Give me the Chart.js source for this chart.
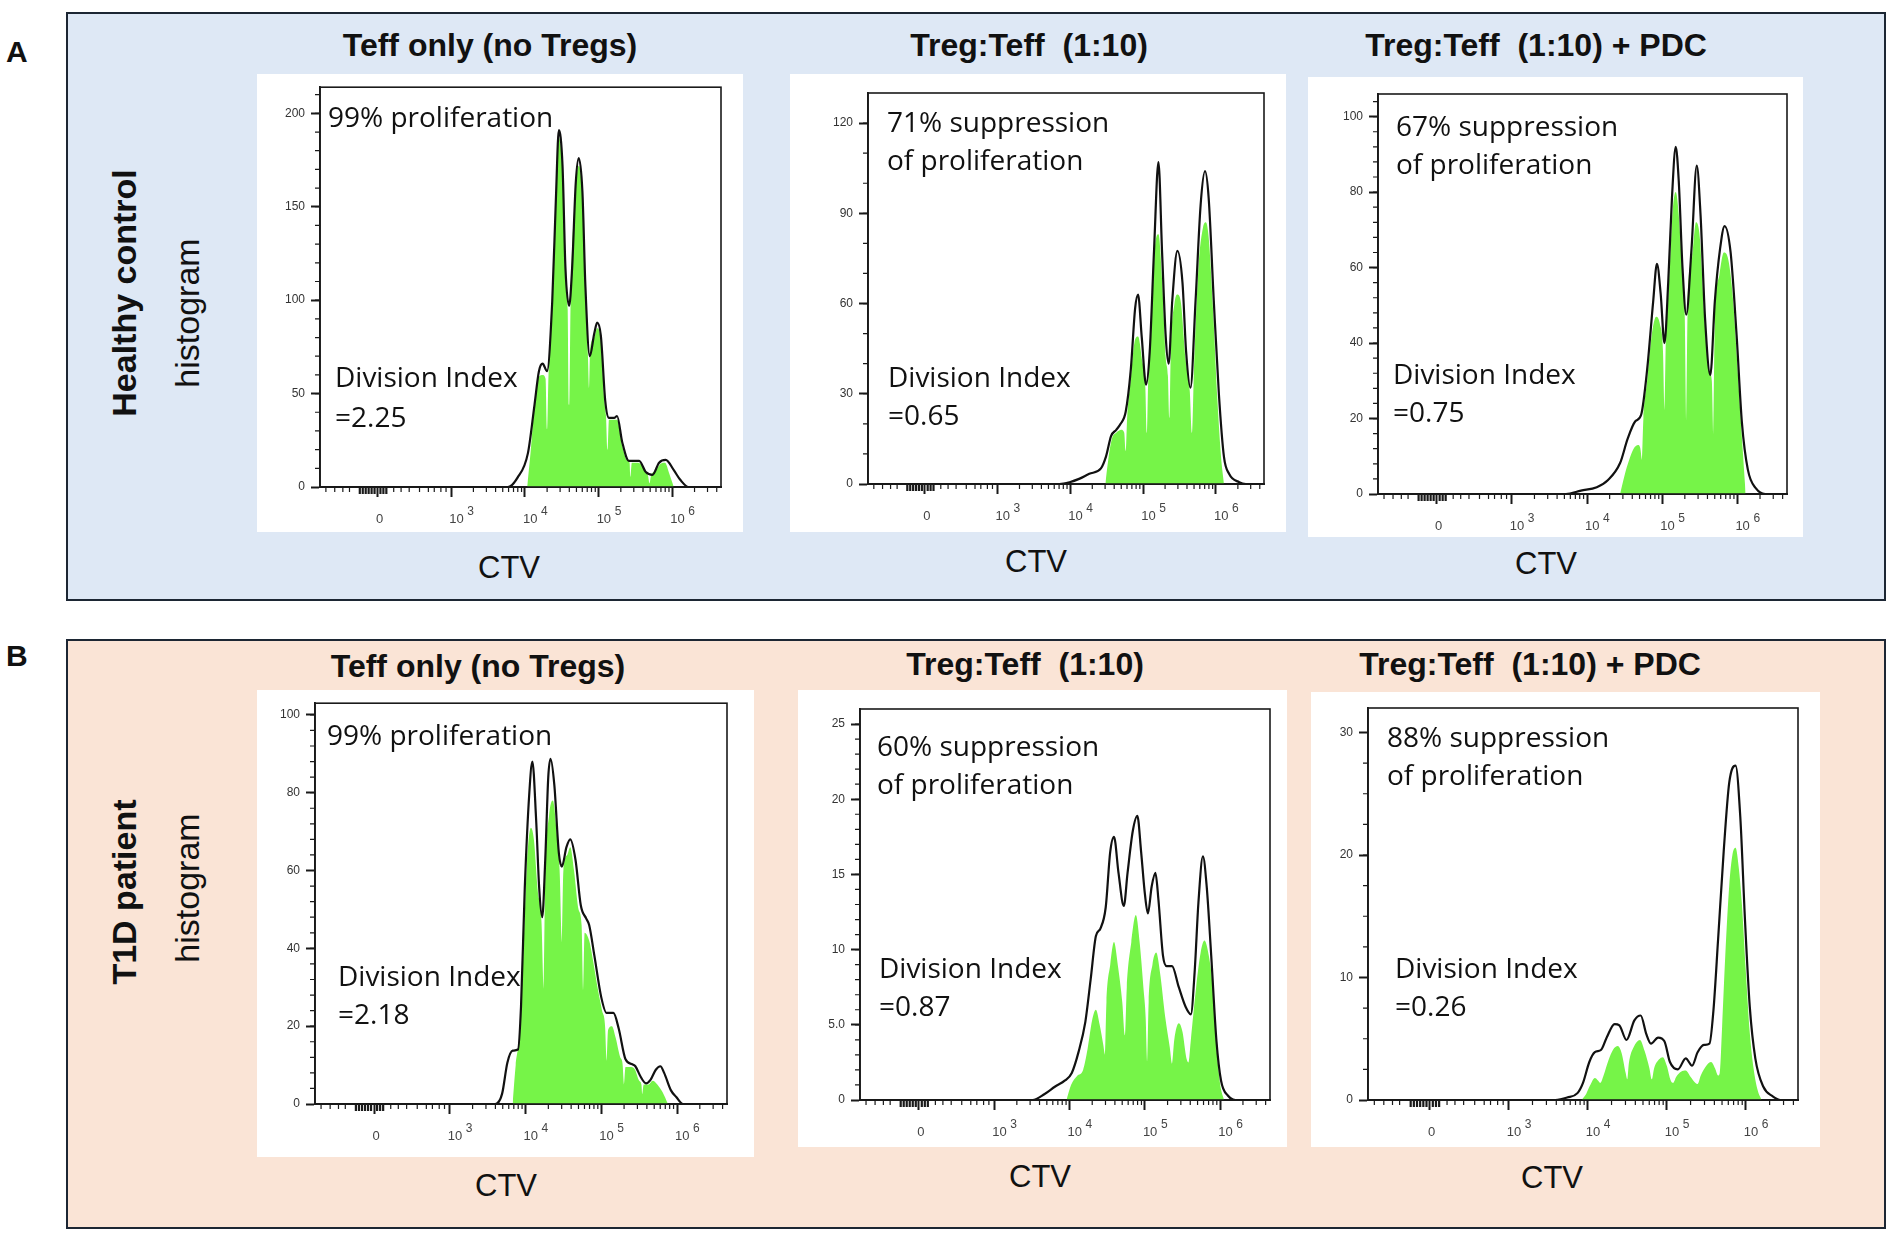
<!DOCTYPE html>
<html>
<head>
<meta charset="utf-8">
<script src="https://cdn.jsdelivr.net/npm/chart.js@4.4.1/dist/chart.umd.min.js"></script>
<style>
  html, body { margin: 0; padding: 0; background: #fff; }
  body { width: 1890px; height: 1236px; position: relative; overflow: hidden; }
  .panel { position: absolute; box-sizing: border-box; border: 2.5px solid #1c2633; }
  .box { position: absolute; background: #fff; }
  .txt { position: absolute; white-space: pre; color: #111; }
</style>
</head>
<body>
<div class="panel" style="left:66px;top:12px;width:1820px;height:589px;background:#dee8f5"></div>
<div class="panel" style="left:66px;top:639px;width:1820px;height:590px;background:#fae4d6"></div>

<script>
// CTV axis in display decades: 2 = "0", 3 = 10^3 ... 6 = 10^6
const xMin = 1.22, xMax = 6.66;
const xTickValues = [2, 3, 4, 5, 6];
const xTickBase = ["0", "10", "10", "10", "10"];
const xTickExp = ["", "3", "4", "5", "6"];
const xNearZeroTicks = [1.30, 1.42, 1.53, 1.62, 2.22, 2.32, 2.43, 2.57, 2.69, 2.77, 2.86, 2.93];
const xZeroCluster = [1.76, 1.80, 1.84, 1.88, 1.92, 1.96, 2.04, 2.08, 2.12];

// A: healthy control
const a1LineX = [1.22,3.77,3.90,4.04,4.13,4.19,4.24,4.30,4.37,4.42,4.46,4.51,4.55,4.60,4.64,4.69,4.73,4.78,4.82,4.88,4.94,4.98,5.03,5.09,5.14,5.21,5.25,5.32,5.41,5.55,5.64,5.73,5.82,5.91,6.02,6.11,6.22,6.66];
const a1LineY = [0,0,5,18,44,62,66,62,99,154,191,172,117,97,117,163,176,158,108,70,82,88,81,46,37,37,38,24,14,14,8,6.5,13,14.5,9,3.7,0,0];
const a1FillX = [4.03,4.08,4.14,4.19,4.24,4.28,4.30,4.32,4.37,4.42,4.46,4.51,4.55,4.58,4.60,4.62,4.68,4.73,4.78,4.82,4.855,4.87,4.885,4.94,4.98,5.03,5.08,5.10,5.12,5.14,5.20,5.25,5.32,5.39,5.42,5.43,5.45,5.52,5.58,5.64,5.67,5.69,5.71,5.78,5.84,5.90,5.96,6.02];
const a1FillY = [0,20,48,59,60,58,31,60,95,150,187,168,113,95,44,100,155,172,155,105,70,53,74,80,85,78,45,38,20,36,36,36,22,14,13,5.5,13,13,12,8,6,2,6,9,12.5,13,7,0];
const a1YTicks = [0, 50, 100, 150, 200];
const a1YLabels = ["0", "50", "100", "150", "200"];

const a2LineX = [1.22,3.85,3.99,4.12,4.26,4.42,4.49,4.56,4.63,4.69,4.76,4.83,4.89,4.93,4.98,5.04,5.09,5.15,5.21,5.26,5.31,5.35,5.40,5.47,5.54,5.59,5.65,5.72,5.79,5.85,5.90,5.97,6.04,6.11,6.18,6.32,6.41,6.66];
const a2LineY = [0,0,0.6,1.7,3.4,5.2,9.2,16,18,20,24,38,58.5,63,49,33,44,78,107,77,49,40,61,77.5,67,44,32,61,93,104,95,61,30,9,3.4,0.6,0,0];
const a2FillX = [4.48,4.52,4.57,4.63,4.70,4.74,4.76,4.78,4.83,4.88,4.93,4.98,5.03,5.05,5.07,5.11,5.16,5.21,5.26,5.31,5.34,5.36,5.38,5.43,5.47,5.52,5.58,5.64,5.67,5.70,5.76,5.82,5.86,5.90,5.96,6.02,6.07,6.11];
const a2FillY = [0,8,15,17,18,17,11,22,35,47,49,42,32,17,35,50,78,83,68,42,36,22,45,60,63,60,42,31,17,40,72,85,87,82,58,28,9,0];
const a2YTicks = [0, 30, 60, 90, 120];
const a2YLabels = ["0", "30", "60", "90", "120"];

const a3LineX = [1.22,3.72,3.92,4.13,4.28,4.44,4.54,4.64,4.72,4.80,4.88,4.93,4.98,5.03,5.08,5.13,5.18,5.22,5.27,5.32,5.39,5.46,5.51,5.57,5.64,5.70,5.77,5.83,5.91,5.99,6.06,6.14,6.25,6.37,6.66];
const a3LineY = [0,0,0.9,1.8,3.7,8.2,14.6,19.2,21,33,51,61,53,40,56,78.5,92,83,60,47.5,65,87,74,46.6,31.5,51,65,71,64,42,19,6.4,1.4,0,0];
const a3FillX = [4.44,4.50,4.56,4.62,4.68,4.71,4.73,4.75,4.80,4.86,4.92,4.97,5.01,5.03,5.05,5.09,5.14,5.18,5.22,5.27,5.30,5.32,5.34,5.40,5.45,5.50,5.56,5.62,5.66,5.68,5.70,5.76,5.82,5.88,5.94,6.00,6.06,6.11];
const a3FillY = [0,5,9,12,13,12,9,20,30,42,47,45,38,22,42,55,75,80,74,58,47,18,50,63,72,68,47,33,30,15,45,58,64,62,52,34,15,0];
const a3YTicks = [0, 20, 40, 60, 80, 100];
const a3YLabels = ["0", "20", "40", "60", "80", "100"];

// B: T1D patient
const b1LineX = [1.22,3.60,3.69,3.76,3.83,3.90,3.94,3.99,4.05,4.09,4.14,4.18,4.22,4.26,4.30,4.33,4.38,4.44,4.48,4.54,4.59,4.66,4.73,4.80,4.84,4.91,5.00,5.07,5.16,5.23,5.32,5.41,5.45,5.52,5.59,5.65,5.72,5.78,5.83,5.92,5.99,6.08,6.66];
const b1LineY = [0,0,2.6,10.6,13.7,14,25,55.6,80,88,73,55.6,48,62.7,84,88.7,82,64.5,61,66,68,62.7,51,47.7,46,38,27.4,23.4,23.4,19.4,11.5,10.2,9.7,7,5.3,6.2,8.8,9.7,8,3.5,1.8,0,0];
const b1FillX = [3.83,3.87,3.92,3.97,4.02,4.07,4.11,4.16,4.21,4.24,4.26,4.31,4.36,4.41,4.45,4.48,4.50,4.55,4.59,4.64,4.70,4.74,4.76,4.78,4.84,4.89,4.95,5.01,5.05,5.07,5.09,5.14,5.19,5.25,5.28,5.30,5.32,5.38,5.44,5.50,5.53,5.54,5.56,5.62,5.68,5.74,5.81,5.88];
const b1FillY = [0,10,18,38,62,71,68,55,47,29,58,74,78,70,60,41,60,64,66,60,50,46,29,44,42,37,30,24,20,11,19,20,17,12,10.5,5,9.5,9.5,9,6,5,2.5,5,5,6,5,3,0];
const b1YTicks = [0, 20, 40, 60, 80, 100];
const b1YLabels = ["0", "20", "40", "60", "80", "100"];

const b2LineX = [1.22,3.51,3.67,3.81,3.94,4.03,4.12,4.21,4.28,4.35,4.41,4.48,4.54,4.59,4.65,4.72,4.77,4.84,4.90,4.95,5.00,5.04,5.09,5.14,5.18,5.24,5.29,5.36,5.45,5.54,5.61,5.66,5.71,5.77,5.82,5.88,5.95,6.01,6.10,6.24,6.66];
const b2LineY = [0,0,0.4,0.9,1.3,1.8,3.2,5.2,8.0,10.9,11.4,12.8,16.5,17.5,15.1,12.9,15.1,17.9,18.9,16.5,13.7,12.4,14.2,15.1,13.3,9.6,8.9,8.9,7.5,6.2,5.7,8.5,13.1,16.2,14.2,9.6,3.9,1.3,0.3,0,0];
const b2FillX = [3.96,4.02,4.10,4.18,4.24,4.30,4.35,4.40,4.45,4.47,4.49,4.54,4.59,4.64,4.70,4.735,4.76,4.82,4.88,4.93,4.98,5.01,5.03,5.05,5.10,5.15,5.20,5.27,5.33,5.36,5.39,5.45,5.50,5.55,5.58,5.61,5.68,5.74,5.79,5.84,5.90,5.95,6.00,6.05];
const b2FillY = [0,1,1.6,2.0,3.4,5.3,6.0,5.0,3.6,3.0,6.5,9.0,10.5,9.0,6.5,4.3,7.5,10.5,12.3,10.5,7.5,5.5,2.5,6.5,9.0,9.8,8.5,5.5,3.5,2.4,4.0,5.1,4.5,2.8,2.5,4.0,7.5,9.8,10.6,9.8,7.5,3.5,1.0,0];
const b2YTicks = [0, 5, 10, 15, 20, 25];
const b2YLabels = ["0", "5.0", "10", "15", "20", "25"];

const b3LineX = [1.22,3.59,3.74,3.87,3.94,4.02,4.09,4.17,4.24,4.34,4.40,4.49,4.59,4.67,4.74,4.80,4.89,4.97,5.04,5.14,5.24,5.32,5.39,5.47,5.54,5.59,5.65,5.72,5.79,5.87,5.93,5.99,6.05,6.12,6.22,6.34,6.44,6.66];
const b3LineY = [0,0,0.2,0.56,1.4,3.1,3.9,4.1,5.1,6.2,6.1,4.9,6.5,6.9,5.4,4.6,5.1,4.8,3.1,2.5,3.4,2.8,3.9,4.5,4.6,7.3,13.2,20.3,25.9,27.3,23.1,14.6,7.6,3.4,1.1,0.3,0,0];
const b3FillX = [3.92,3.98,4.03,4.09,4.13,4.16,4.20,4.26,4.32,4.38,4.43,4.48,4.50,4.52,4.58,4.66,4.72,4.78,4.81,4.84,4.90,4.95,5.00,5.05,5.08,5.12,5.18,5.24,5.30,5.36,5.39,5.43,5.50,5.56,5.61,5.65,5.67,5.70,5.74,5.79,5.83,5.87,5.91,5.95,6.00,6.05,6.10,6.15,6.20];
const b3FillY = [0,0.5,1.2,1.8,1.6,1.4,2.0,3.2,4.1,4.4,3.8,2.2,1.7,3.0,4.3,4.9,4.0,2.6,1.7,2.6,3.3,3.5,2.8,1.6,1.4,1.9,2.3,2.4,1.9,1.4,1.3,2.0,2.8,3.1,2.6,2.0,2.2,6.0,11.8,17.5,20.0,20.6,19.0,16,10.5,5.5,2.5,0.8,0];
const b3YTicks = [0, 10, 20, 30];
const b3YLabels = ["0", "10", "20", "30"];

const SANS = "'Liberation Sans', Arial, sans-serif";
const NOTE = "'Open Sans', sans-serif";
const GREEN = "#76f448";
const INK = "#1a1a1a";

Chart.defaults.font.family = SANS;

// log minor ticks above 10^3
const xMinorTicks = xNearZeroTicks.slice();
[3, 4, 5, 6].forEach(d => {
  for (let m = 2; m <= 9; m++) {
    const v = d + Math.log10(m);
    if (v < xMax) xMinorTicks.push(v);
  }
});

// frame, minor ticks and 10^n labels
const flowAxes = {
  id: "flowAxes",
  afterDraw(chart, args, opts) {
    const { ctx, chartArea: a, scales: { x, y } } = chart;
    ctx.save();
    ctx.strokeStyle = INK;
    ctx.lineWidth = 1.6;
    ctx.strokeRect(a.left, a.top, a.right - a.left, a.bottom - a.top);

    ctx.lineWidth = 1.2;
    ctx.beginPath();
    xMinorTicks.forEach(v => {
      const px = x.getPixelForValue(v);
      ctx.moveTo(px, a.bottom);
      ctx.lineTo(px, a.bottom + 5);
    });
    for (let v = opts.yMinor; v < y.max; v += opts.yMinor) {
      const py = y.getPixelForValue(v);
      ctx.moveTo(a.left, py);
      ctx.lineTo(a.left - 5, py);
    }
    ctx.stroke();

    // dense tick cluster round zero
    ctx.lineWidth = 2.2;
    ctx.beginPath();
    xZeroCluster.forEach(v => {
      const px = x.getPixelForValue(v);
      ctx.moveTo(px, a.bottom);
      ctx.lineTo(px, a.bottom + 7);
    });
    ctx.stroke();

    ctx.fillStyle = "#444";
    ctx.textBaseline = "alphabetic";
    const base = a.bottom + 36;
    xTickValues.forEach((v, i) => {
      const px = x.getPixelForValue(v);
      ctx.font = "13px " + SANS;
      if (!xTickExp[i]) {
        ctx.textAlign = "center";
        ctx.fillText(xTickBase[i], px + 2, base);
      } else {
        ctx.textAlign = "left";
        ctx.fillText(xTickBase[i], px - 2, base);
        ctx.font = "12px " + SANS;
        ctx.fillText(xTickExp[i], px + 16, base - 8);
      }
    });
    ctx.restore();
  }
};

function points(xs, ys) {
  return xs.map((v, i) => ({ x: v, y: ys[i] }));
}

function addText(text, x, baseline, size, opts = {}) {
  const el = document.createElement("div");
  el.className = "txt";
  el.textContent = text;
  const fam = opts.family || SANS;
  const k = fam === NOTE ? 0.888 : 0.8465;
  el.style.fontFamily = fam;
  el.style.fontSize = size + "px";
  el.style.lineHeight = size + "px";
  el.style.fontWeight = opts.bold ? "bold" : "normal";
  el.style.left = x + "px";
  el.style.top = (baseline - k * size) + "px";
  if (opts.center) el.style.transform = "translateX(-50%)";
  document.body.appendChild(el);
  return el;
}

function addVertical(text, cx, cy, size, bold) {
  const el = document.createElement("div");
  el.className = "txt";
  el.textContent = text;
  el.style.fontFamily = SANS;
  el.style.fontSize = size + "px";
  el.style.lineHeight = size + "px";
  el.style.fontWeight = bold ? "bold" : "normal";
  el.style.left = cx + "px";
  el.style.top = cy + "px";
  el.style.transform = "translate(-50%,-50%) rotate(-90deg)";
  document.body.appendChild(el);
}

const plots = [
  { box: [257, 74, 486, 458], yW: 63, xH: 45, padT: 11, padR: 22,
    lx: a1LineX, ly: a1LineY, fx: a1FillX, fy: a1FillY, yMax: 214, yTicks: a1YTicks, yLabels: a1YLabels, yMinor: 10,
    title: ["Teff only (no Tregs)", 490, 56], ctv: [509, 578],
    notes: [["99% proliferation", 328, 127], ["Division Index", 335, 387], ["=2.25", 335, 427]] },
  { box: [790, 74, 496, 458], yW: 78, xH: 48, padT: 19, padR: 22,
    lx: a2LineX, ly: a2LineY, fx: a2FillX, fy: a2FillY, yMax: 130, yTicks: a2YTicks, yLabels: a2YLabels, yMinor: 10,
    title: ["Treg:Teff  (1:10)", 1029, 56], ctv: [1036, 572],
    notes: [["71% suppression", 887, 132], ["of proliferation", 887, 170], ["Division Index", 888, 387], ["=0.65", 888, 425]] },
  { box: [1308, 77, 495, 460], yW: 70, xH: 43, padT: 17, padR: 16,
    lx: a3LineX, ly: a3LineY, fx: a3FillX, fy: a3FillY, yMax: 106, yTicks: a3YTicks, yLabels: a3YLabels, yMinor: 4,
    title: ["Treg:Teff  (1:10) + PDC", 1536, 56], ctv: [1546, 574],
    notes: [["67% suppression", 1396, 136], ["of proliferation", 1396, 174], ["Division Index", 1393, 384], ["=0.75", 1393, 422]] },
  { box: [257, 690, 497, 467], yW: 58, xH: 53, padT: 13, padR: 27,
    lx: b1LineX, ly: b1LineY, fx: b1FillX, fy: b1FillY, yMax: 103, yTicks: b1YTicks, yLabels: b1YLabels, yMinor: 4,
    title: ["Teff only (no Tregs)", 478, 677], ctv: [506, 1196],
    notes: [["99% proliferation", 327, 745], ["Division Index", 338, 986], ["=2.18", 338, 1024]] },
  { box: [798, 690, 489, 457], yW: 62, xH: 47, padT: 19, padR: 17,
    lx: b2LineX, ly: b2LineY, fx: b2FillX, fy: b2FillY, yMax: 26, yTicks: b2YTicks, yLabels: b2YLabels, yMinor: 1,
    title: ["Treg:Teff  (1:10)", 1025, 675], ctv: [1040, 1187],
    notes: [["60% suppression", 877, 756], ["of proliferation", 877, 794], ["Division Index", 879, 978], ["=0.87", 879, 1016]] },
  { box: [1311, 692, 509, 455], yW: 57, xH: 47, padT: 16, padR: 22,
    lx: b3LineX, ly: b3LineY, fx: b3FillX, fy: b3FillY, yMax: 32, yTicks: b3YTicks, yLabels: b3YLabels, yMinor: 2.5,
    title: ["Treg:Teff  (1:10) + PDC", 1530, 675], ctv: [1552, 1188],
    notes: [["88% suppression", 1387, 747], ["of proliferation", 1387, 785], ["Division Index", 1395, 978], ["=0.26", 1395, 1016]] }
];

plots.forEach(p => {
  const wrap = document.createElement("div");
  wrap.className = "box";
  wrap.style.left = p.box[0] + "px";
  wrap.style.top = p.box[1] + "px";
  wrap.style.width = p.box[2] + "px";
  wrap.style.height = p.box[3] + "px";
  const canvas = document.createElement("canvas");
  wrap.appendChild(canvas);
  document.body.appendChild(wrap);

  new Chart(canvas, {
    type: "line",
    data: {
      datasets: [
        {
          data: points(p.lx, p.ly),
          borderColor: "#111",
          borderWidth: 2.2,
          pointRadius: 0,
          fill: false,
          cubicInterpolationMode: "monotone",
          order: 0
        },
        {
          data: points(p.fx, p.fy),
          borderWidth: 0,
          borderColor: GREEN,
          backgroundColor: GREEN,
          pointRadius: 0,
          fill: "origin",
          cubicInterpolationMode: "monotone",
          order: 1
        }
      ]
    },
    options: {
      responsive: true,
      maintainAspectRatio: false,
      animation: false,
      layout: { padding: { top: p.padT, right: p.padR, left: 0, bottom: 0 } },
      plugins: {
        legend: { display: false },
        tooltip: { enabled: false },
        flowAxes: { yMinor: p.yMinor }
      },
      scales: {
        x: {
          type: "linear",
          min: xMin,
          max: xMax,
          afterBuildTicks: s => { s.ticks = xTickValues.map(v => ({ value: v })); },
          afterFit: s => { s.height = p.xH; },
          ticks: { callback: () => "", autoSkip: false, maxRotation: 0 },
          grid: { drawOnChartArea: false, tickLength: 10, tickWidth: 2, tickColor: INK },
          border: { color: INK, width: 2 }
        },
        y: {
          min: 0,
          max: p.yMax,
          afterBuildTicks: s => { s.ticks = p.yTicks.map(v => ({ value: v })); },
          afterFit: s => { s.width = p.yW; },
          ticks: {
            callback: (v, i) => p.yLabels[i],
            autoSkip: false,
            color: "#333",
            padding: 6,
            font: { size: 12 }
          },
          grid: { drawOnChartArea: false, tickLength: 9, tickWidth: 2, tickColor: INK },
          border: { color: INK, width: 1.8 }
        }
      }
    },
    plugins: [flowAxes]
  });

  addText(p.title[0], p.title[1], p.title[2], 32, { bold: true, center: true });
  addText("CTV", p.ctv[0], p.ctv[1], 31, { center: true });
  p.notes.forEach(n => addText(n[0], n[1], n[2], 28, { family: NOTE }));
});

addText("A", 6, 62, 30, { bold: true });
addText("B", 6, 666, 30, { bold: true });
addVertical("Healthy control", 124, 293, 34, true);
addVertical("histogram", 187, 313, 34, false);
addVertical("T1D patient", 124, 892, 34, true);
addVertical("histogram", 187, 888, 34, false);
</script>
</body>
</html>
